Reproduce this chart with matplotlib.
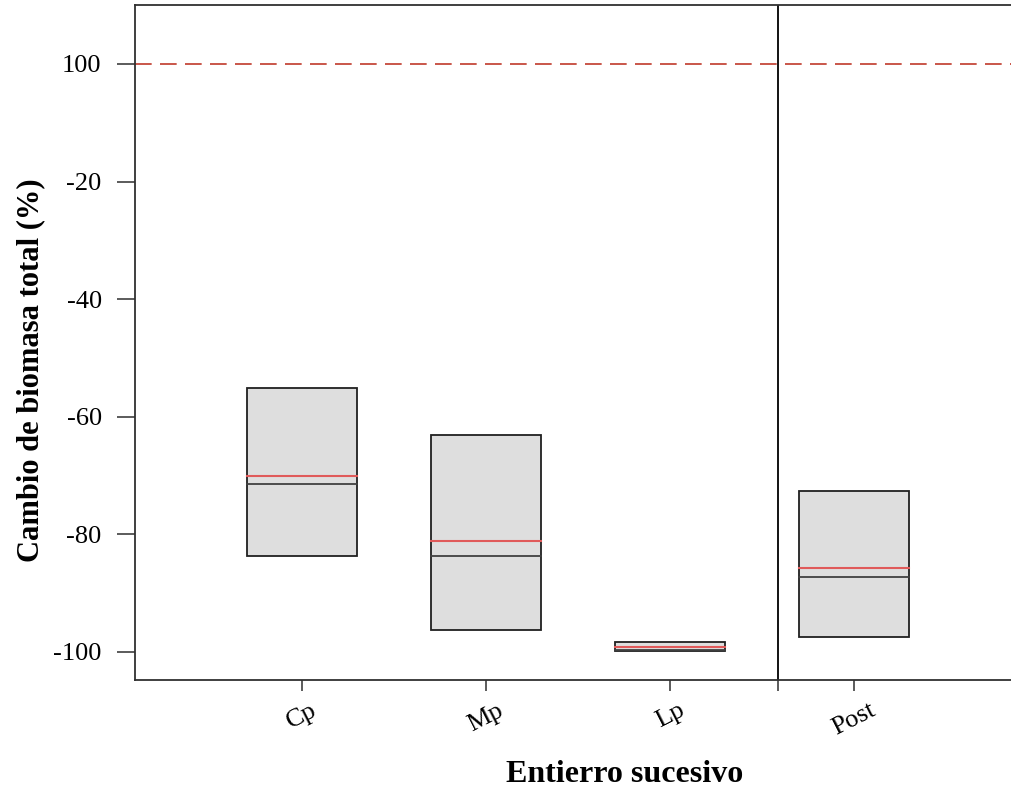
import matplotlib
matplotlib.use("Agg")
import matplotlib.pyplot as plt
from matplotlib.patches import Rectangle

plt.rcParams['font.family'] = ['Liberation Serif', 'DejaVu Serif']

# datos
categorias = ["Cp", "Mp", "Lp", "Post"]
caja_sup = [-55.2, -63.1, -98.3, -72.7]
caja_inf = [-83.7, -96.3, -99.9, -97.5]
media = [-70.1, -81.1, -99.15, -85.8]
mediana = [-71.5, -83.7, -99.7, -87.2]
yticks = [-100, -80, -60, -40, -20, 0]
yticklabels = ["-100", "-80", "-60", "-40", "-20", "100"]

pos = [1, 2, 3, 4]
ancho = 0.60
separador = 3.587

fig = plt.figure(figsize=(10.11, 7.93), dpi=100)
ax = fig.add_axes([0.1335, 0.1425, 0.968, 0.851])

for x, lo, hi, mu, me in zip(pos, caja_inf, caja_sup, media, mediana):
    ax.add_patch(Rectangle((x - ancho / 2, lo), ancho, hi - lo,
                           facecolor="#dedede", edgecolor="#202020", linewidth=1.3, zorder=2))
    ax.plot([x - ancho / 2, x + ancho / 2], [me, me], color="#404040", lw=1.3, zorder=3)
    ax.plot([x - ancho / 2, x + ancho / 2], [mu, mu], color="#e05a5a", lw=1.5, zorder=4)

ax.axhline(0, color="#c0392b", lw=1.2, dashes=(10, 5), zorder=1)
ax.axvline(separador, color="black", lw=1.3, zorder=1)

ax.set_xlim(0.092, 5.41)
ax.set_ylim(-104.8, 10)

ax.set_yticks(yticks)
ax.set_yticklabels(yticklabels, fontsize=19)
ax.set_xticks(pos)
ax.set_xticklabels(categorias, fontsize=19, rotation=27, ha="center")
ax.set_xticks([separador], minor=True)
ax.tick_params(axis="y", length=13, width=1.2, pad=11, color="#404040")
ax.tick_params(axis="x", which="both", length=8, width=1.2, pad=6, color="#404040")

for s in ["left", "bottom", "top"]:
    ax.spines[s].set_color("#303030")
    ax.spines[s].set_linewidth(1.3)
ax.spines["right"].set_visible(False)

ax.set_ylabel("Cambio de biomasa total (%)", fontsize=22, fontweight="bold")
ax.yaxis.set_label_coords(-0.092, 0.459)
ax.set_xlabel("Entierro sucesivo", fontsize=23, fontweight="bold", va="top")
ax.xaxis.set_label_coords(0.5, -0.118)

fig.savefig("out.png", dpi=100)
